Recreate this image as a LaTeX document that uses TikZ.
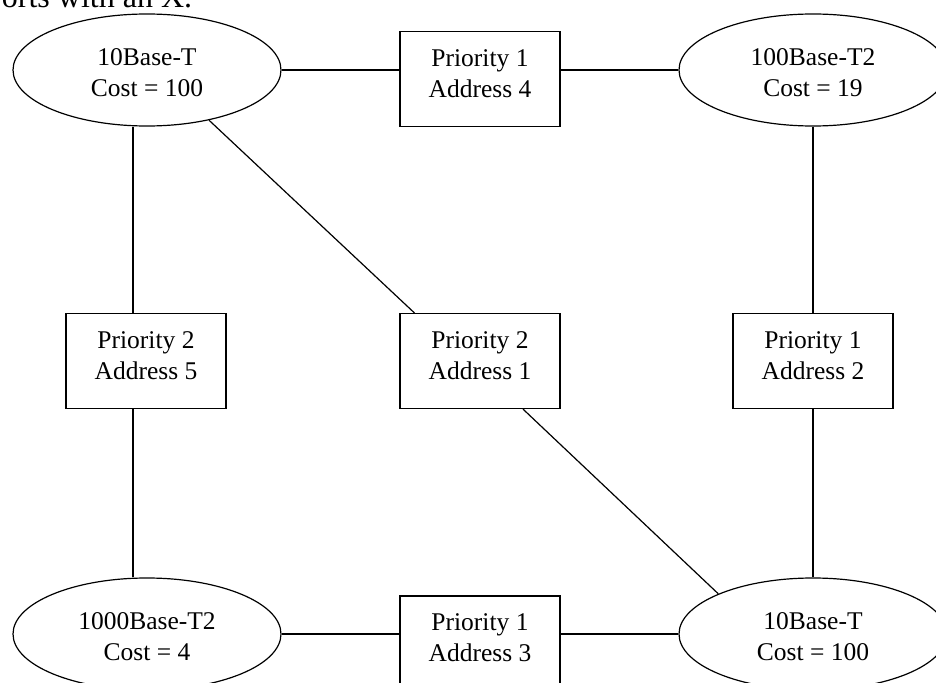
\documentclass[tikz,border=0pt]{standalone}
\usepackage{fontspec}
\setmainfont{Liberation Serif}
\usetikzlibrary{shapes.geometric}

\begin{document}
\begin{tikzpicture}[x=1pt, y=-1pt, line width=1.2pt,
   every node/.style={font=\fontsize{25.5}{31}\selectfont},
   lan/.style={ellipse, minimum width=268pt, minimum height=112pt, inner sep=0pt, align=center, text height=54pt},
   bridge/.style={rectangle, minimum width=160pt, minimum height=95pt, inner sep=0pt, align=center, text depth=11pt}]
   \useasboundingbox (0,0) rectangle (936,682);

   \node (cap) at (-2,7.5) [anchor=base west, font=\fontsize{32}{38}\selectfont] {orts with an X.};

   \node (lan1) at (147,70) [draw, lan] {10Base-T\\Cost = 100};
   \node (lan2) at (813,70) [draw, lan] {100Base-T2\\Cost = 19};
   \node (lan3) at (147,634) [draw, lan] {1000Base-T2\\Cost = 4};
   \node (lan4) at (813,634) [draw, lan] {10Base-T\\Cost = 100};

   \node (b4) at (480,79) [draw, bridge] {Priority 1\\Address 4};
   \node (b5) at (146,361) [draw, bridge] {Priority 2\\Address 5};
   \node (b1) at (480,361) [draw, bridge] {Priority 2\\Address 1};
   \node (b2) at (813,361) [draw, bridge] {Priority 1\\Address 2};
   \node (b3) at (480,643.5) [draw, bridge] {Priority 1\\Address 3};

   \draw (lan1.east) -- (lan1.east -| b4.west);
   \draw (b4.east |- lan2.west) -- (lan2.west);
   \draw ([xshift=-14pt]lan1.south) -- ([xshift=-13pt]b5.north);
   \draw ([xshift=-13pt]b5.south) -- ([xshift=-14pt]lan3.north);
   \draw (lan1.-39) -- ([xshift=15pt]b1.north west);
   \draw ([xshift=43pt]b1.south) -- (lan4.157);
   \draw (lan2.south) -- (b2.north);
   \draw (b2.south) -- (lan4.north);
   \draw (lan3.east) -- (lan3.east -| b3.west);
   \draw (b3.east |- lan4.west) -- (lan4.west);

\end{tikzpicture}
\end{document}
